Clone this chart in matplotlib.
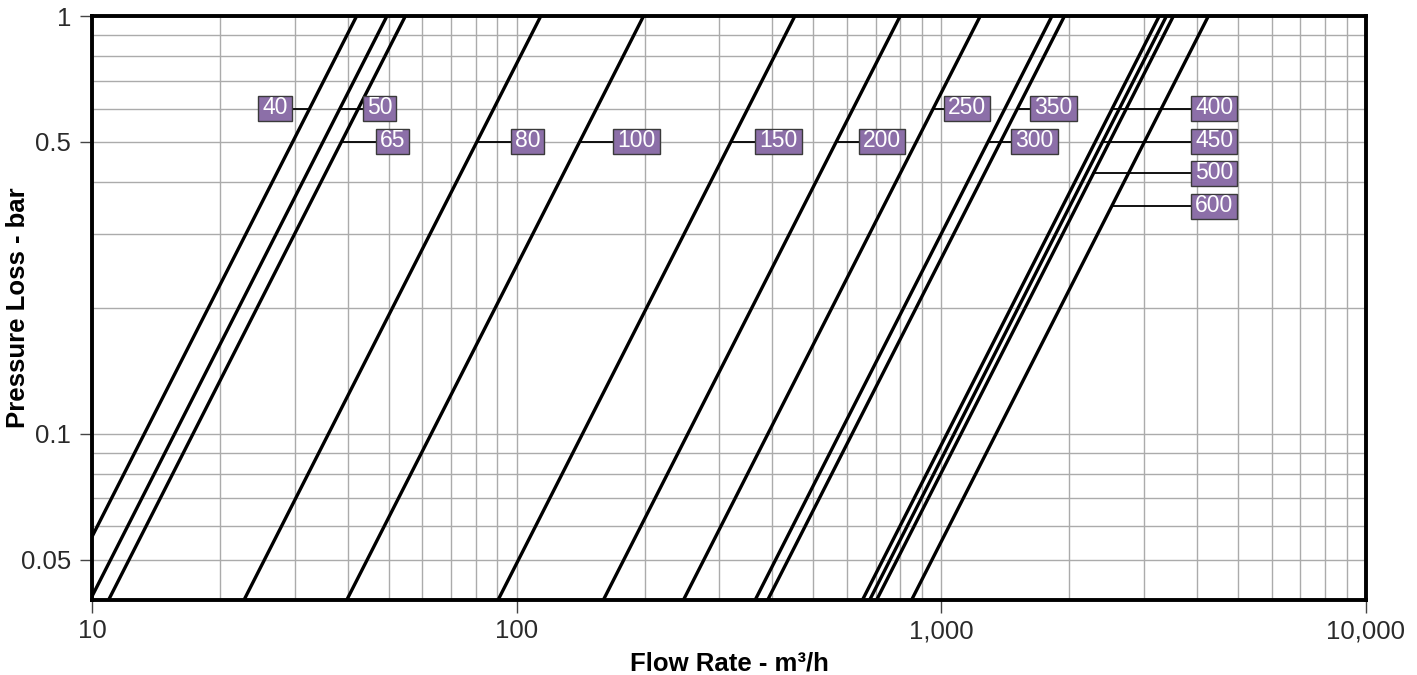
import numpy as np
import matplotlib
matplotlib.use("Agg")
import matplotlib.pyplot as plt
from matplotlib.patches import Rectangle
from matplotlib.transforms import IdentityTransform
from matplotlib.ticker import FixedLocator, FixedFormatter, LogLocator, NullFormatter

plt.rcParams['font.family'] = ['Liberation Sans', 'DejaVu Sans']

# Valve sizes (DN) and flow (m3/h) producing 1 bar pressure loss (dp ~ Q^2)
sizes = ['40', '50', '65', '80', '100', '150', '200', '250', '300', '350',
         '400', '450', '500', '600']
flow_at_1bar = [42, 49.5, 54.7, 114, 199, 452, 800, 1235, 1822, 1950,
                3260, 3390, 3520, 4255]

# label annotation anchors (flow, pressure loss)
label_flow = [29.5, 43.4, 46.6, 96.8, 169, 365, 641, 1016, 1461, 1620,
              3873, 3873, 3873, 3873]
label_loss = [0.6, 0.6, 0.5, 0.5, 0.5, 0.5, 0.5, 0.6, 0.5, 0.6,
              0.6, 0.5, 0.42, 0.35]

x_ticks = [10, 100, 1000, 10000]
x_ticklabels = ['10', '100', '1,000', '10,000']
y_ticks = [0.05, 0.1, 0.5, 1]
y_ticklabels = ['0.05', '0.1', '0.5', '1']

W, H = 1417, 675
fig = plt.figure(figsize=(W / 100, H / 100), dpi=100)
ax = fig.add_axes([92 / W, 1 - 600 / H, (1366 - 92) / W, (600 - 16) / H])
ax.set_xscale('log')
ax.set_yscale('log')
ax.set_xlim(10, 10000)
ax.set_ylim(0.04, 1)

ax.xaxis.set_major_locator(FixedLocator(x_ticks))
ax.xaxis.set_major_formatter(FixedFormatter(x_ticklabels))
ax.xaxis.set_minor_locator(LogLocator(base=10, subs=np.arange(2, 10)))
ax.xaxis.set_minor_formatter(NullFormatter())
ax.yaxis.set_major_locator(FixedLocator(y_ticks))
ax.yaxis.set_major_formatter(FixedFormatter(y_ticklabels))
ax.yaxis.set_minor_locator(LogLocator(base=10, subs=np.arange(1, 10)))
ax.yaxis.set_minor_formatter(NullFormatter())

ax.grid(True, which='both', color='#ababab', lw=1.0, zorder=0)
ax.tick_params(which='major', direction='out', length=9, width=1.0,
               color='#444444', labelsize=18.5, labelcolor='#2a2a2a', pad=5)
ax.tick_params(axis='y', which='major', pad=6)
ax.tick_params(which='minor', length=0)
for s in ax.spines.values():
    s.set_linewidth(2.8)
    s.set_color('black')
    s.set_zorder(5)

p = np.array([0.04, 1.0])
for q1 in flow_at_1bar:
    ax.plot(q1 * np.sqrt(p), p, color='black', lw=2.4, zorder=3,
            solid_capstyle='butt')

ax.set_xlabel('Flow Rate - m³/h', fontsize=18.5, fontweight='bold', labelpad=6)
fig.text(18 / W, 1 - 308 / H, 'Pressure Loss - bar', rotation=90,
         ha='center', va='center', fontsize=18.5, fontweight='bold')

renderer = fig.canvas.get_renderer()
box_h = 25
pad_x = 4
for name, q1, lx, ly in zip(sizes, flow_at_1bar, label_flow, label_loss):
    qline = q1 * np.sqrt(ly)
    ax.plot([qline, lx], [ly, ly], color='black', lw=1.3, zorder=3)
    t = ax.text(lx, ly, name, ha='center', va='center', color='white',
                fontsize=16.5, zorder=7)
    tw = t.get_window_extent(renderer).width
    bw = tw + 2 * pad_x
    ax_x, ax_y = ax.transData.transform((lx, ly))
    if lx < qline:
        left = ax_x - bw
    else:
        left = ax_x
    cx = left + bw / 2
    t.set_position(ax.transData.inverted().transform((cx, ax_y + 1)))
    rect = Rectangle((left, ax_y - box_h / 2), bw, box_h,
                     transform=IdentityTransform(), facecolor='#8c6fa8',
                     edgecolor='#3a3a3a', linewidth=1.0, zorder=6)
    ax.add_patch(rect)

fig.savefig('out.png', dpi=100)
